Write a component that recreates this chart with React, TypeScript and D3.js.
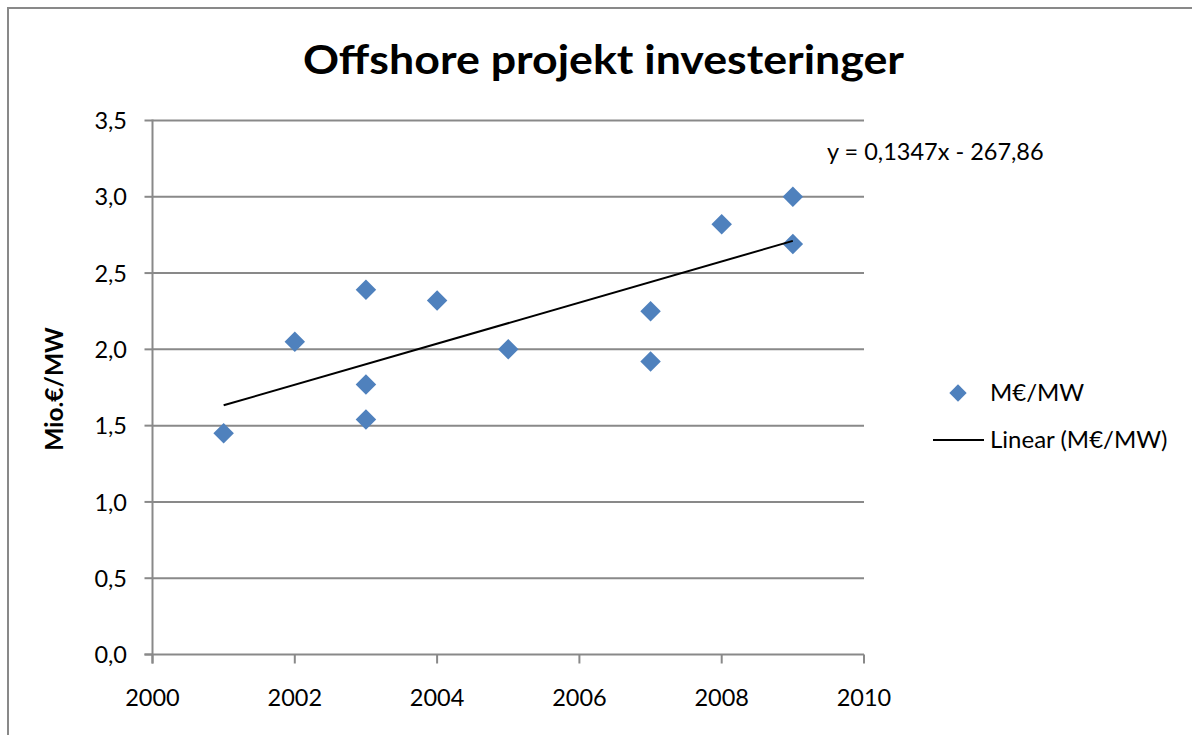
import React from "react";
import * as d3 from "d3";

const years = [2001, 2002, 2003, 2003, 2003, 2004, 2005, 2007, 2007, 2008, 2009, 2009];
const values = [1.45, 2.05, 2.39, 1.77, 1.54, 2.32, 2.0, 2.25, 1.92, 2.82, 3.0, 2.69];
const xTicks = [2000, 2002, 2004, 2006, 2008, 2010];
const yTicks = [0, 0.5, 1.0, 1.5, 2.0, 2.5, 3.0, 3.5];
const title = "Offshore projekt investeringer";
const yTitle = "Mio.€/MW";
const seriesName = "M€/MW";
const trendName = "Linear (M€/MW)";
const equation = "y = 0,1347x - 267,86";

const W = 1192;
const H = 735;
const FONT = "Lato, 'Open Sans', sans-serif";
const GRID = "#898989";
const BLUE = "#4F81BD";

export default function App() {
  const x = d3.scaleLinear().domain([2000, 2010]).range([152.5, 864]);
  const y = d3.scaleLinear().domain([0, 3.5]).range([654.5, 120.5]);
  const fmt = (v: number) => d3.format(".1f")(v).replace(".", ",");

  // least-squares trend line from the data
  const mx = d3.mean(years) as number;
  const my = d3.mean(values) as number;
  let sxy = 0;
  let sxx = 0;
  years.forEach((yr, i) => {
    sxy += (yr - mx) * (values[i] - my);
    sxx += (yr - mx) * (yr - mx);
  });
  const slope = sxy / sxx;
  const icpt = my - slope * mx;
  const x0 = d3.min(years) as number;
  const x1 = d3.max(years) as number;
  const trend = d3.line<number>().x((d) => x(d)).y((d) => y(icpt + slope * d))([x0, x1]) as string;

  const diamond = (s: number) => d3.symbol().type(d3.symbolSquare).size(s)() as string;

  return (
    <svg
      width={W}
      height={H}
      style={{ position: "absolute", left: 0, top: 0, display: "block", background: "#fff" }}
      fontFamily={FONT}
    >
      <rect x={0} y={0} width={W} height={H} fill="#fff" />
      {/* chart border */}
      <rect x={8} y={8} width={W + 100} height={H + 100} fill="none" stroke={GRID} strokeWidth={2} />

      {/* title */}
      <text
        x={603.5}
        y={74}
        textAnchor="middle"
        fontSize={41}
        fontWeight="bold"
        textLength={601}
        lengthAdjust="spacingAndGlyphs"
        fill="#000"
      >
        {title}
      </text>

      {/* gridlines */}
      {yTicks.filter((t) => t > 0).map((t) => (
        <line key={"g" + t} x1={x(2000)} x2={x(2010)} y1={y(t)} y2={y(t)} stroke={GRID} strokeWidth={2} />
      ))}

      {/* y axis */}
      <line x1={x(2000)} x2={x(2000)} y1={y(3.5) - 1} y2={y(0) + 9} stroke={GRID} strokeWidth={2} />
      {yTicks.map((t) => (
        <g key={"yt" + t}>
          <line x1={x(2000) - 8} x2={x(2000)} y1={y(t)} y2={y(t)} stroke={GRID} strokeWidth={2} />
          <text x={127} y={y(t)} dy="0.37em" textAnchor="end" fontSize={23.5} fill="#000">
            {fmt(t)}
          </text>
        </g>
      ))}

      {/* x axis */}
      <line x1={x(2000) - 8} x2={x(2010)} y1={y(0)} y2={y(0)} stroke={GRID} strokeWidth={2} />
      {xTicks.map((t) => (
        <g key={"xt" + t}>
          <line x1={x(t)} x2={x(t)} y1={y(0)} y2={y(0) + 9} stroke={GRID} strokeWidth={2} />
          <text x={x(t)} y={706} textAnchor="middle" fontSize={23.5} fill="#000">
            {t}
          </text>
        </g>
      ))}

      {/* y axis title */}
      <text
        transform={`translate(63, 389) rotate(-90)`}
        textAnchor="middle"
        fontSize={24.5}
        fontWeight="bold"
        fill="#000"
      >
        {yTitle}
      </text>

      {/* points */}
      {years.map((yr, i) => (
        <path
          key={"p" + i}
          d={diamond(210)}
          transform={`translate(${x(yr)}, ${y(values[i])}) rotate(45)`}
          fill={BLUE}
        />
      ))}

      {/* trend line */}
      <path d={trend} fill="none" stroke="#000" strokeWidth={2} />

      {/* equation */}
      <text x={827} y={160} fontSize={23.5} fill="#000">
        {equation}
      </text>

      {/* legend */}
      <path d={diamond(150)} transform="translate(958, 393) rotate(45)" fill={BLUE} />
      <text x={990} y={401} fontSize={24} fill="#000">
        {seriesName}
      </text>
      <line x1={933} x2={984} y1={440} y2={440} stroke="#000" strokeWidth={2} />
      <text x={990} y={448} fontSize={24} fill="#000">
        {trendName}
      </text>
    </svg>
  );
}
